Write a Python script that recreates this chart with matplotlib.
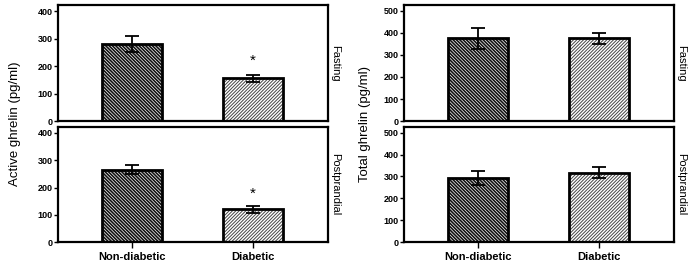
import matplotlib
matplotlib.use("Agg")
import matplotlib.pyplot as plt
import numpy as np

groups = ["Non-diabetic", "Diabetic"]
active_fasting = [280, 155]
active_fasting_err = [30, 14]
active_post = [265, 120]
active_post_err = [16, 12]
total_fasting = [375, 375]
total_fasting_err = [48, 26]
total_post = [294, 316]
total_post_err = [33, 25]
sig_active_fasting = [None, 218]
sig_active_post = [None, 176]

plt.rcParams['font.family'] = ['Liberation Sans', 'DejaVu Sans']

fig = plt.figure(figsize=(7.0, 2.69), dpi=100)

L_left, R_left = 0.083, 0.386
L_right = 0.577
top_b, top_h = 0.550, 0.431
bot_b, bot_h = 0.100, 0.428

hatches = ['\\' * 10, '/' * 10]
hatch_lw = [1.2, 0.7]
hatch_col = ['#111111', '#444444']

def panel(rect, vals, errs, ymax, yticks, side_label, show_x, sig=None):
    ax = fig.add_axes(rect)
    x = np.arange(len(vals))
    for i in range(len(vals)):
        with plt.rc_context({'hatch.linewidth': hatch_lw[i], 'hatch.color': hatch_col[i]}):
            ax.bar(x[i], vals[i], width=0.5, color='white', edgecolor=hatch_col[i],
                   hatch=hatches[i], linewidth=0, zorder=2)
        ax.bar(x[i], vals[i], width=0.5, fill=False, edgecolor='black',
               linewidth=2.0, zorder=3)
    ax.errorbar(x, vals, yerr=errs, fmt='none', ecolor='black', elinewidth=1.3,
                capsize=5, capthick=1.3, zorder=4)
    if sig is not None:
        for i, s in enumerate(sig):
            if s is not None:
                ax.text(x[i], s, '*', ha='center', va='center', fontsize=11)
    ax.set_xlim(-0.61, 1.62)
    ax.set_ylim(0, ymax)
    ax.set_yticks(yticks)
    ax.set_yticklabels([str(t) for t in yticks], fontsize=6.5, fontweight='bold')
    for sp in ax.spines.values():
        sp.set_linewidth(1.6)
    ax.tick_params(axis='y', length=3, width=1.0, pad=1)
    if show_x:
        ax.set_xticks(x)
        ax.set_xticklabels(groups, fontsize=8, fontweight='bold')
        ax.tick_params(axis='x', length=4, width=1.0, pad=3)
    else:
        ax.set_xticks([])
    ax.text(1.027, 0.5, side_label, transform=ax.transAxes, rotation=270,
            ha='center', va='center', fontsize=8)
    return ax

panel([L_left, top_b, R_left, top_h], active_fasting, active_fasting_err, 422,
      [0, 100, 200, 300, 400], 'Fasting', False, sig_active_fasting)
panel([L_left, bot_b, R_left, bot_h], active_post, active_post_err, 422,
      [0, 100, 200, 300, 400], 'Postprandial', True, sig_active_post)
panel([L_right, top_b, R_left, top_h], total_fasting, total_fasting_err, 526,
      [0, 100, 200, 300, 400, 500], 'Fasting', False)
panel([L_right, bot_b, R_left, bot_h], total_post, total_post_err, 526,
      [0, 100, 200, 300, 400, 500], 'Postprandial', True)

fig.text(0.022, 0.54, 'Active ghrelin (pg/ml)', rotation=90, ha='center', va='center', fontsize=9.5)
fig.text(0.522, 0.54, 'Total ghrelin (pg/ml)', rotation=90, ha='center', va='center', fontsize=9.5)

fig.savefig('out.png', dpi=100, facecolor='white')
